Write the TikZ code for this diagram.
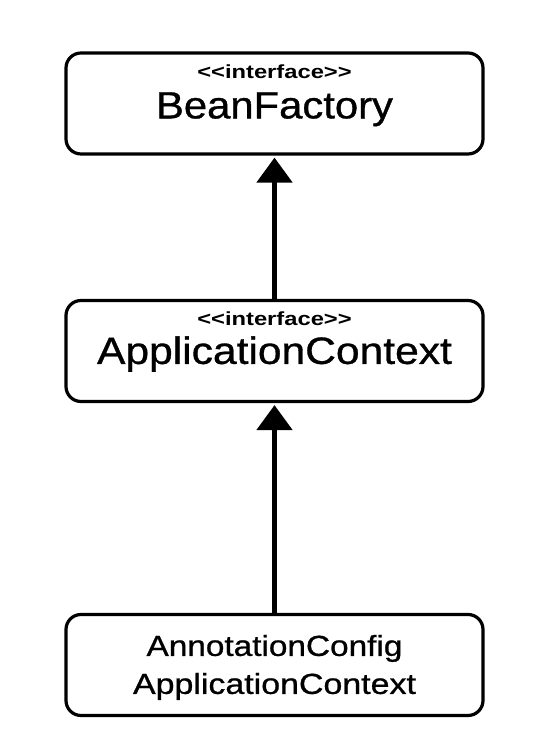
\documentclass[tikz,border=0pt]{standalone}
\usepackage{fontspec}
\setmainfont{Liberation Sans}[Ligatures=TeXOff]
\newfontfamily\heavyfont{Liberation Sans}[Ligatures=TeXOff,FakeBold=0.8]
\usetikzlibrary{arrows.meta}
\begin{document}
\begin{tikzpicture}[x=1pt,y=1pt,
  umlbox/.style={draw=black, line width=3.2pt, rounded corners=15pt, minimum width=417pt, minimum height=101pt, inner sep=0pt, fill=white},
  stereo/.style={anchor=base, inner sep=0pt, font=\bfseries\fontsize{19}{19}\selectfont},
  bigname/.style={anchor=base, inner sep=0pt, font=\heavyfont\fontsize{38}{38}\selectfont},
  smallname/.style={anchor=base, inner sep=0pt, font=\heavyfont\fontsize{29}{29}\selectfont},
  inherit/.style={line width=5pt, -{Triangle[width=35pt,length=25pt]}, shorten >=2pt}]
\useasboundingbox (0,0) rectangle (556,752);
\fill[white] (0,0) rectangle (556,752);
% boxes
\node[umlbox] (bf) at (274.5,648.5) {};
\node[umlbox] (ac) at (274.5,401) {};
\node[umlbox] (acac) at (274.5,87) {};
% labels
\node[stereo] (bfs) at ([yshift=-27pt]bf.north) {\scalebox{1.25}[1]{<<interface>>}};
\node[bigname] (bfn) at ([yshift=-67pt]bf.north) {\scalebox{1.1}[1]{BeanFactory}};
\node[stereo] (acs) at ([yshift=-27pt]ac.north) {\scalebox{1.25}[1]{<<interface>>}};
\node[bigname] (acn) at ([yshift=-65pt]ac.north) {\scalebox{1.12}[1]{ApplicationContext}};
\node[smallname] (acac1) at ([yshift=-43pt]acac.north) {\scalebox{1.15}[1]{AnnotationConfig}};
\node[smallname] (acac2) at ([yshift=-81pt]acac.north) {\scalebox{1.17}[1]{ApplicationContext}};
% connectors
\draw[inherit] (ac.north) -- (bf.south);
\draw[inherit] (acac.north) -- (ac.south);
\end{tikzpicture}
\end{document}
